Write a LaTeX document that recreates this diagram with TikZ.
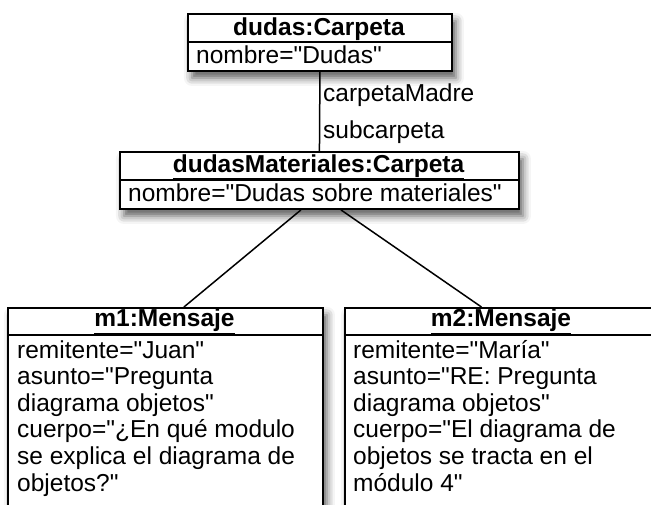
\documentclass[tikz,border=0pt]{standalone}
\usepackage{fontspec}
\setmainfont{Liberation Sans}[Ligatures=TeXOff]
\usetikzlibrary{shadows.blur}
\tikzset{
  objbox/.style={draw=black, line width=1.9pt, fill=white, rectangle, inner sep=0pt, anchor=north west,
    blur shadow={shadow xshift=4pt, shadow yshift=-7pt, shadow blur radius=8pt, shadow opacity=65}},
  sep/.style={line width=1.5pt},
  conn/.style={line width=1.5pt},
  ttl/.style={anchor=base, inner sep=0pt, font=\fontsize{24.5}{26.6}\selectfont\bfseries},
  attr/.style={anchor=base west, inner sep=0pt, font=\fontsize{24.5}{26.6}\selectfont},
}
\begin{document}
\begin{tikzpicture}[x=1pt,y=-1pt]
\useasboundingbox (0,0) rectangle (651,504);
\clip (0,0) rectangle (651,504);
% boxes
\node[objbox, minimum width=264pt, minimum height=57pt] (dudas) at (187,13) {};
\node[objbox, minimum width=399pt, minimum height=57pt] (dm) at (119,151) {};
\node[objbox, minimum width=315pt, minimum height=220pt] (m1) at (7,307) {};
\node[objbox, minimum width=315pt, minimum height=220pt] (m2) at (344,307) {};
% dividers
\draw[sep] ([yshift=-29pt]dudas.north west) -- ([yshift=-29pt]dudas.north east);
\draw[sep] ([yshift=-29pt]dm.north west) -- ([yshift=-29pt]dm.north east);
\draw[sep] ([yshift=-28pt]m1.north west) -- ([yshift=-28pt]m1.north east);
\draw[sep] ([yshift=-28pt]m2.north west) -- ([yshift=-28pt]m2.north east);
% titles
\node[ttl] (t1) at (319,35) {\underline{dudas:Carpeta}};
\node[ttl] (t2) at (318.5,172) {\underline{dudasMateriales:Carpeta}};
\node[ttl] (t3) at (164.5,326.5) {\underline{m1:Mensaje}};
\node[ttl] (t4) at (501,326.5) {\underline{m2:Mensaje}};
% attributes
\node[attr] (a1) at (196,63) {nombre="Dudas"};
\node[attr] (a2) at (128,201.5) {nombre="Dudas sobre materiales"};
\node[attr] (b1) at (17,358) {remitente="Juan"};
\node[attr] (b2) at (17,384.6) {asunto="Pregunta};
\node[attr] (b3) at (17,411.2) {diagrama objetos"};
\node[attr] (b4) at (17,437.8) {cuerpo="¿En qué modulo};
\node[attr] (b5) at (17,464.4) {se explica el diagrama de};
\node[attr] (b6) at (17,491) {objetos?"};
\node[attr] (c1) at (353,358) {remitente="María"};
\node[attr] (c2) at (353,384.6) {asunto="RE: Pregunta};
\node[attr] (c3) at (353,411.2) {diagrama objetos"};
\node[attr] (c4) at (353,437.8) {cuerpo="El diagrama de};
\node[attr] (c5) at (353,464.4) {objetos se tracta en el};
\node[attr] (c6) at (353,491) {módulo 4"};
% role labels
\node[attr] (r1) at (323,101.5) {carpetaMadre};
\node[attr] (r2) at (323,138) {subcarpeta};
% connectors
\draw[conn] (dudas.south) -- (dm.north);
\draw[conn] ([xshift=-18.5pt]dm.south) -- ([xshift=18.5pt]m1.north);
\draw[conn] ([xshift=21.5pt]dm.south) -- ([xshift=-21pt]m2.north);
\end{tikzpicture}
\end{document}
